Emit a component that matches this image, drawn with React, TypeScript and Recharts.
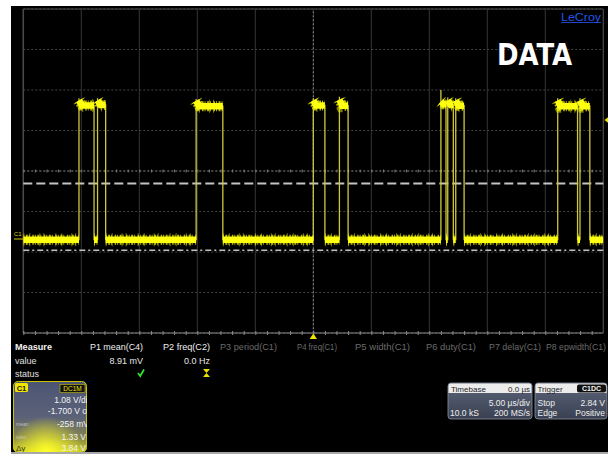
import React from "react";
import { LineChart, Line, XAxis, YAxis, CartesianGrid, ReferenceLine } from "recharts";

// horizontal: 5 µs/div, 10 divisions
const timeTicks = [-25, -20, -15, -10, -5, 0, 5, 10, 15, 20, 25];
// vertical: 1.08 V/div, offset -1.700 V (centre = 1.7 V), 8 divisions
const voltTicks = [-2.62, -1.54, -0.46, 0.62, 1.7, 2.78, 3.86, 4.94, 6.02];

// transition times in µs, alternating rise / fall, trace starts low
const edgeTimes = [
  -20.2, -18.9, -18.6, -17.9, -10.1, -7.8, 0.0, 1.0, 2.25, 3.0,
  11.0, 11.44, 11.59, 12.07, 12.28, 13.0, 21.07, 22.78, 22.99, 23.84,
];
// per pulse: level just after the rising edge, settled level, tip of the edge
const risePeaks = [3.58, 3.58, 3.57, 3.58, 3.6, 3.55, 3.58, 3.58, 3.58, 3.58];
const highLevels = [3.45, 3.46, 3.43, 3.45, 3.44, 3.48, 3.46, 3.44, 3.43, 3.43];
const spikeTips = [3.64, 3.64, 3.62, 3.64, 3.68, 3.86, 3.66, 3.64, 3.64, 3.64];
const lowLevel = -0.13;

const thresholdLevel = 1.37;
const baseLevel = -0.41;

const measureNames = [
  "P1 mean(C4)", "P2 freq(C2)", "P3 period(C1)", "P4 freq(C1)",
  "P5 width(C1)", "P6 duty(C1)", "P7 delay(C1)", "P8 epwidth(C1)",
];
const measureValues = ["8.91 mV", "0.0 Hz"];

type Pt = { t: number; edge: number | null; band: number | null };

const data: Pt[] = [{ t: -25, edge: lowLevel, band: lowLevel }];
edgeTimes.forEach((T, i) => {
  const k = Math.floor(i / 2);
  if (i % 2 === 0) {
    data.push({ t: T, edge: lowLevel, band: lowLevel });
    data.push({ t: T, edge: null, band: null });
    data.push({ t: T, edge: spikeTips[k], band: null });
    data.push({ t: T, edge: risePeaks[k], band: risePeaks[k] });
    data.push({ t: T + 0.25, edge: highLevels[k], band: highLevels[k] });
  } else {
    data.push({ t: T, edge: highLevels[k], band: highLevels[k] });
    data.push({ t: T, edge: null, band: null });
    data.push({ t: T, edge: lowLevel, band: lowLevel });
  }
});
data.push({ t: 25, edge: lowLevel, band: lowLevel });

const font = "'Liberation Sans', Arial, sans-serif";

function Overlay() {
  const xs = [90, 163, 220, 297, 355, 426, 489, 546];
  const ws = [53, 47, 57, 40, 55, 50, 52, 60];
  return (
    <svg
      width={615}
      height={455}
      style={{ position: "absolute", left: 0, top: 0, pointerEvents: "none" }}
      fontFamily={font}
    >
      <defs>
        <linearGradient id="c1bg" x1="0" y1="0" x2="0" y2="1">
          <stop offset="0" stopColor="#4b5573" />
          <stop offset="0.5" stopColor="#5b6178" />
          <stop offset="0.8" stopColor="#85854e" />
          <stop offset="1" stopColor="#cccc1e" />
        </linearGradient>
        <radialGradient id="c1glow" cx="0.45" cy="1" r="0.5">
          <stop offset="0" stopColor="#ffff2a" stopOpacity="1" />
          <stop offset="1" stopColor="#ffff2a" stopOpacity="0" />
        </radialGradient>
        <linearGradient id="boxbg" x1="0" y1="0" x2="0" y2="1">
          <stop offset="0" stopColor="#5c6479" />
          <stop offset="1" stopColor="#394051" />
        </linearGradient>
        <clipPath id="c1clip">
          <rect x={13} y={381} width={74} height={71} rx={5} />
        </clipPath>
      </defs>

      {/* title and logo */}
      <text x={561} y={21} fontSize={10} fill="#2255ee" textLength={40} lengthAdjust="spacingAndGlyphs">
        LeCroy
      </text>
      <line x1={561} x2={601} y1={22.5} y2={22.5} stroke="#2255ee" strokeWidth={0.8} />
      <text
        x={497}
        y={65}
        fontSize={31}
        fontWeight="bold"
        fill="#ffffff"
        fontFamily="'Liberation Sans Narrow', 'DejaVu Sans Condensed', sans-serif"
        textLength={75}
        lengthAdjust="spacingAndGlyphs"
      >
        DATA
      </text>

      {/* ground marker and trigger markers */}
      <text x={14} y={235.5} fontSize={6} fill="#d8cc10">C1</text>
      <line x1={14} x2={23} y1={239} y2={239} stroke="#d8cc10" strokeWidth={1} />
      <path d="M604.5 120 L608 117.3 L608 122.7 Z" fill="#f0e400" />
      <path d="M313.3 333.5 L309.6 339 L317 339 Z" fill="#f0e400" />

      {/* measure table */}
      <text x={15} y={350} fontSize={9} fontWeight="bold" fill="#f2f2f2" textLength={37} lengthAdjust="spacingAndGlyphs">
        Measure
      </text>
      <text x={15} y={363.5} fontSize={9} fill="#e0e0e0">value</text>
      <text x={15} y={376.5} fontSize={9} fill="#e0e0e0">status</text>
      {measureNames.map((m, i) => (
        <text
          key={m}
          x={xs[i]}
          y={350}
          fontSize={9}
          fill={i < 2 ? "#eeeeee" : "#6a6a6a"}
          textLength={ws[i]}
          lengthAdjust="spacingAndGlyphs"
        >
          {m}
        </text>
      ))}
      <text x={143} y={363.5} fontSize={9} fill="#e6e6e6" textAnchor="end">{measureValues[0]}</text>
      <text x={210} y={363.5} fontSize={9} fill="#e6e6e6" textAnchor="end">{measureValues[1]}</text>
      <path d="M138 373 L140.2 376 L144 369.5" stroke="#2fe02f" strokeWidth={1.8} fill="none" />
      <path d="M203 369 H210 L206.5 373 L210 377 H203 L206.5 373 Z" fill="#e8e000" />

      {/* channel descriptor */}
      <rect x={13} y={381} width={74} height={71} rx={5} fill="url(#c1bg)" />
      <rect x={13} y={381} width={74} height={71} rx={5} fill="url(#c1glow)" />
      <rect x={13.5} y={381.5} width={73} height={71} rx={5} fill="none" stroke="#c9c300" strokeWidth={1} />
      <rect x={15} y={383} width={13} height={9} rx={1.5} fill="#f2e600" />
      <text x={21.5} y={390.5} fontSize={7.5} fontWeight="bold" fill="#222" textAnchor="middle">C1</text>
      <rect x={60} y={384.5} width={25} height={8} fill="#111" stroke="#c9c300" strokeWidth={0.6} />
      <text x={72.5} y={391} fontSize={6.5} fill="#f0e000" textAnchor="middle">DC1M</text>
      <g clipPath="url(#c1clip)" fontSize={8.5} fill="#f4f4f4">
        <text x={92} y={403} textAnchor="end">1.08 V/div</text>
        <text x={96} y={413.5} textAnchor="end">-1.700 V ofst</text>
        <text x={89} y={427} textAnchor="end">-258 mV</text>
        <text x={86} y={440} textAnchor="end">1.33 V</text>
        <text x={86} y={451} textAnchor="end">3.84 V</text>
        <text x={16} y={426} fontSize={5} fill="#b8bccc">mean</text>
        <text x={16} y={439} fontSize={5} fill="#c8c8a0">sdev</text>
        <text x={16} y={451} fontSize={8} fill="#3a3a30">Δy</text>
      </g>

      {/* timebase box */}
      <rect x={448} y={383} width={84} height={36} rx={3} fill="url(#boxbg)" stroke="#8c93a2" strokeWidth={0.8} />
      <path d="M448.5 393 V386 Q448.5 383.5 451 383.5 H529 Q531.5 383.5 531.5 386 V393 Z" fill="#ececec" />
      <text x={451} y={391.5} fontSize={8} fill="#222">Timebase</text>
      <text x={530} y={391.5} fontSize={8} fill="#222" textAnchor="end">0.0 µs</text>
      <text x={530} y={406} fontSize={8.5} fill="#eeeeee" textAnchor="end">5.00 µs/div</text>
      <text x={450} y={416} fontSize={8.5} fill="#eeeeee">10.0 kS</text>
      <text x={530} y={416} fontSize={8.5} fill="#eeeeee" textAnchor="end">200 MS/s</text>

      {/* trigger box */}
      <rect x={535} y={383} width={72} height={36} rx={3} fill="url(#boxbg)" stroke="#8c93a2" strokeWidth={0.8} />
      <path d="M535.5 393 V386 Q535.5 383.5 538 383.5 H604 Q606.5 383.5 606.5 386 V393 Z" fill="#ececec" />
      <text x={537.5} y={391.5} fontSize={8} fill="#222">Trigger</text>
      <rect x={577} y={384.5} width={29} height={8} rx={2} fill="#101010" />
      <text x={591.5} y={391} fontSize={7} fontWeight="bold" fill="#f4f4f4" textAnchor="middle">C1DC</text>
      <text x={537.5} y={406} fontSize={8.5} fill="#eeeeee">Stop</text>
      <text x={605} y={406} fontSize={8.5} fill="#eeeeee" textAnchor="end">2.84 V</text>
      <text x={537.5} y={416} fontSize={8.5} fill="#eeeeee">Edge</text>
      <text x={605} y={416} fontSize={8.5} fill="#eeeeee" textAnchor="end">Positive</text>

      {/* bottom rim */}
      <rect x={11} y={452} width={597} height={2} fill="#a8a8a8" />
    </svg>
  );
}

export default function App() {
  return (
    <div
      style={{
        position: "absolute",
        left: 0,
        top: 0,
        width: 615,
        height: 455,
        background: "#ffffff",
        overflow: "hidden",
      }}
    >
      <div style={{ position: "absolute", left: 11, top: 6, width: 597, height: 446, background: "#000" }} />
      <div style={{ position: "absolute", left: 0, top: 0 }}>
        <LineChart
          width={615}
          height={455}
          data={data}
          margin={{ top: 9, right: 11.7, bottom: 122, left: 23.3 }}
        >
          <CartesianGrid vertical={false} stroke="#444444" strokeDasharray="2 2" />
          <CartesianGrid horizontal={false} stroke="#363636" />
          <XAxis type="number" dataKey="t" domain={[-25, 25]} ticks={timeTicks} hide allowDataOverflow />
          <YAxis type="number" domain={[-2.62, 6.02]} ticks={voltTicks} hide allowDataOverflow width={0} />
          <ReferenceLine x={-25} stroke="#4a4a4a" strokeWidth={1.5} />
          <ReferenceLine x={25} stroke="#4a4a4a" />
          <ReferenceLine y={6.02} stroke="#4a4a4a" />
          <ReferenceLine y={-2.62} stroke="#8a8a8a" strokeWidth={1.2} />
          <ReferenceLine y={-2.62} stroke="#8a8a8a" strokeWidth={4} strokeDasharray="1 10.6" />
          <ReferenceLine x={0} stroke="#8c8c8c" strokeDasharray="1.5 2.5" />
          <ReferenceLine y={1.7} stroke="#6a6a6a" strokeDasharray="2 2" />
          <ReferenceLine y={1.7} stroke="#7a7a7a" strokeWidth={3} strokeDasharray="1 10.6" />
          <ReferenceLine y={thresholdLevel} stroke="#c4c4c4" strokeWidth={2} strokeDasharray="9 4" />
          <ReferenceLine y={baseLevel} stroke="#c0c0c0" strokeWidth={1.5} strokeDasharray="6 3 2 3" />
          <Line
            type="linear"
            dataKey="edge"
            stroke="#cfc83e"
            strokeWidth={1.3}
            dot={false}
            activeDot={false}
            connectNulls
            isAnimationActive={false}
          />
          <Line
            type="linear"
            dataKey="band"
            stroke="#dede00"
            strokeWidth={13}
            strokeDasharray="1 5 1 9 1 3 1 11"
            strokeOpacity={0.55}
            dot={false}
            activeDot={false}
            isAnimationActive={false}
          />
          <Line
            type="linear"
            dataKey="band"
            stroke="#eaea00"
            strokeWidth={10}
            strokeDasharray="1 1.5 2 1 1 2.5 1.5 1"
            strokeOpacity={0.8}
            dot={false}
            activeDot={false}
            isAnimationActive={false}
          />
          <Line
            type="linear"
            dataKey="band"
            stroke="#ffff10"
            strokeWidth={6.5}
            dot={false}
            activeDot={false}
            isAnimationActive={false}
          />
        </LineChart>
      </div>
      <Overlay />
    </div>
  );
}
